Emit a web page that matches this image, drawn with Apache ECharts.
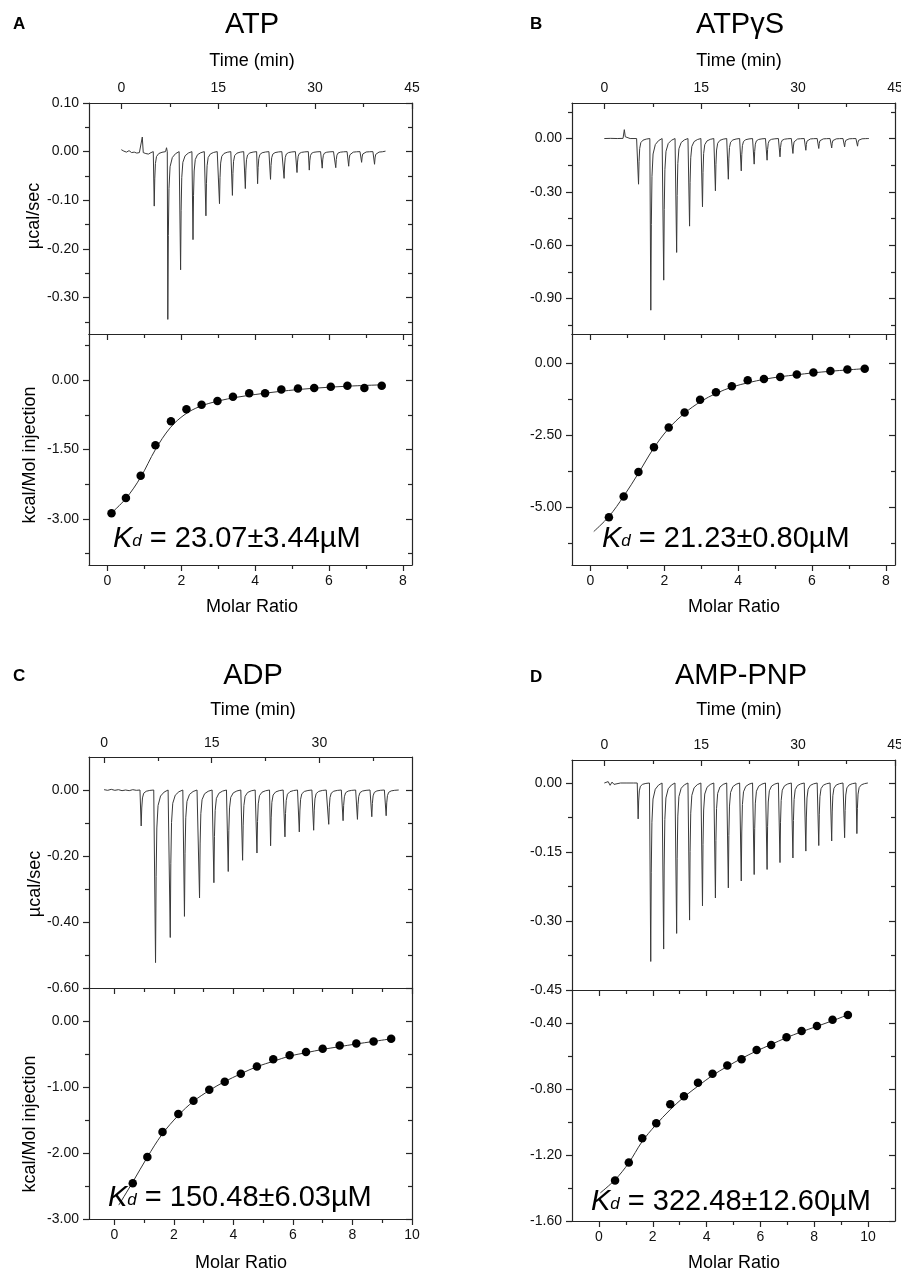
<!DOCTYPE html>
<html>
<head>
<meta charset="utf-8">
<script src="https://cdn.jsdelivr.net/npm/echarts@6/dist/echarts.min.js"></script>
<style>
html,body{margin:0;padding:0;background:#fff;}
#chart{width:901px;height:1273px;}
</style>
</head>
<body>
<div id="chart"></div>
<script>
// ---------------- DATA ----------------
// Panel A : ATP
const injTimeA = [5.1,7.2,9.18,11.1,13.1,15.2,17.2,19.2,21.1,23.1,25.2,27.2,29.1,31.1,33.2,35.2,37.2,39.2];
const injPeakA = [-0.112,-0.345,-0.243,-0.181,-0.132,-0.107,-0.090,-0.076,-0.066,-0.057,-0.055,-0.043,-0.038,-0.034,-0.033,-0.030,-0.022,-0.026];
const baselineA = [[0,0.004],[0.4,0.001],[0.8,-0.001],[1.2,0.002],[1.6,-0.002],[2.0,-0.001],[2.4,-0.003],[2.8,-0.002],[3.1,-0.003],[3.25,0.030],[3.4,-0.002],[3.8,-0.004],[4.2,-0.005],[4.6,-0.002],[4.95,0],[7.0,0.008],[40.9,0.001]];
const molarA = [0.11,0.5,0.9,1.3,1.72,2.14,2.55,2.98,3.4,3.84,4.27,4.71,5.16,5.6,6.05,6.5,6.96,7.43];
const heatA  = [-2.88,-2.55,-2.07,-1.41,-0.89,-0.63,-0.53,-0.45,-0.36,-0.28,-0.28,-0.20,-0.18,-0.17,-0.14,-0.12,-0.17,-0.12];
const fitXA = [0.1,0.5,0.9,1.3,1.7,2.1,2.5,3.0,3.5,4.0,4.7,5.5,6.5,7.43];
const fitYA = [-2.88,-2.56,-2.1,-1.5,-1.03,-0.74,-0.57,-0.45,-0.37,-0.31,-0.24,-0.18,-0.13,-0.1];

// Panel B : ATPγS
const injTimeB = [5.3,7.2,9.2,11.2,13.2,15.2,17.2,19.2,21.2,23.2,25.2,27.2,29.2,31.2,33.2,35.2,37.2,39.2];
const injPeakB = [-0.257,-0.966,-0.797,-0.641,-0.493,-0.384,-0.294,-0.229,-0.182,-0.144,-0.122,-0.103,-0.084,-0.066,-0.056,-0.053,-0.047,-0.043];
const baselineB = [[0,0],[1,0.001],[2,0],[2.9,0.001],[3.1,0.05],[3.25,0.01],[3.5,0.002],[4,0],[5.0,0],[40.8,0]];
const molarB = [0.5,0.9,1.3,1.72,2.12,2.55,2.97,3.4,3.83,4.26,4.7,5.14,5.59,6.04,6.5,6.96,7.43];
const heatB  = [-5.35,-4.63,-3.78,-2.92,-2.24,-1.72,-1.28,-1.02,-0.81,-0.60,-0.56,-0.49,-0.40,-0.33,-0.28,-0.23,-0.20];
const fitXB = [0.09,0.5,0.9,1.3,1.7,2.1,2.55,3.0,3.4,3.85,4.3,4.7,5.14,5.6,6.0,6.5,7.0,7.43];
const fitYB = [-5.84,-5.32,-4.62,-3.82,-2.98,-2.3,-1.74,-1.33,-1.06,-0.83,-0.68,-0.57,-0.48,-0.41,-0.35,-0.29,-0.24,-0.2];

// Panel C : ADP
const injTimeC = [5.17,7.17,9.22,11.2,13.3,15.3,17.3,19.3,21.3,23.2,25.2,27.2,29.2,31.3,33.3,35.3,37.3,39.3];
const injPeakC = [-0.109,-0.523,-0.447,-0.383,-0.327,-0.281,-0.247,-0.213,-0.191,-0.169,-0.142,-0.127,-0.122,-0.104,-0.093,-0.089,-0.081,-0.078];
const baselineC = [[0,0.001],[0.5,-0.001],[1,0.002],[1.5,-0.001],[2,0.001],[2.5,-0.002],[3,0],[3.5,-0.002],[4,0.001],[4.5,-0.001],[5.0,0],[41.1,0]];
const molarC = [0.62,1.11,1.62,2.15,2.66,3.19,3.71,4.25,4.79,5.34,5.89,6.44,7.0,7.57,8.13,8.71,9.3];
const heatC  = [-2.46,-2.06,-1.68,-1.41,-1.21,-1.04,-0.92,-0.80,-0.69,-0.58,-0.52,-0.47,-0.42,-0.37,-0.34,-0.31,-0.27];
const fitXC = [0.15,0.62,1.1,1.6,2.15,2.65,3.2,3.7,4.25,4.8,5.35,5.9,6.45,7.0,7.55,8.1,8.7,9.3];
const fitYC = [-2.79,-2.44,-2.07,-1.72,-1.43,-1.22,-1.05,-0.92,-0.80,-0.69,-0.61,-0.53,-0.48,-0.43,-0.39,-0.35,-0.31,-0.27];

// Panel D : AMP-PNP
const injTimeD = [5.24,7.19,9.19,11.2,13.2,15.2,17.2,19.2,21.2,23.2,25.2,27.2,29.2,31.2,33.2,35.2,37.2,39.1];
const injPeakD = [-0.078,-0.388,-0.361,-0.327,-0.298,-0.267,-0.250,-0.228,-0.213,-0.199,-0.188,-0.173,-0.163,-0.148,-0.136,-0.126,-0.119,-0.110];
const baselineD = [[0,0],[0.3,-0.004],[0.6,0.003],[0.9,-0.005],[1.2,0.002],[1.5,-0.003],[1.8,0.001],[2.5,0],[3.5,0],[4.5,0],[5.1,0],[40.8,0]];
const molarD = [0.6,1.11,1.61,2.13,2.65,3.16,3.68,4.22,4.77,5.3,5.86,6.4,6.97,7.53,8.1,8.68,9.25];
const heatD  = [-1.354,-1.246,-1.099,-1.008,-0.893,-0.844,-0.762,-0.707,-0.657,-0.620,-0.564,-0.533,-0.487,-0.448,-0.418,-0.380,-0.352];
const fitXD = [0.05,0.6,1.1,1.6,2.1,2.65,3.15,3.7,4.2,4.75,5.3,5.85,6.4,6.95,7.5,8.1,8.7,9.25];
const fitYD = [-1.43,-1.35,-1.25,-1.12,-1.02,-0.925,-0.85,-0.78,-0.72,-0.665,-0.615,-0.57,-0.53,-0.49,-0.455,-0.42,-0.385,-0.35];

// Injection peak shape: [minutes after peak, fraction of peak]
const peakShape = [[-0.08,0],[0,1],[0.08,0.5],[0.18,0.22],[0.35,0.09],[0.7,0.035],[1.2,0.012],[1.75,0]];

// Tick labels
const timeTicksABD = [0,15,30,45];
const timeTicksC = [0,15,30];
const timeMinor = [7.5,22.5,37.5];
const yTopA = [0.10,0.00,-0.10,-0.20,-0.30];
const yTopAminor = [0.05,-0.05,-0.15,-0.25,-0.35];
const yBotA = [0.00,-1.50,-3.00];
const yBotAminor = [0.75,-0.75,-2.25,-3.75];
const yTopB = [0.00,-0.30,-0.60,-0.90];
const yTopBminor = [0.15,-0.15,-0.45,-0.75,-1.05];
const yBotB = [0.00,-2.50,-5.00];
const yBotBminor = [-1.25,-3.75,-6.25];
const yTopC = [0.00,-0.20,-0.40,-0.60];
const yTopCminor = [-0.10,-0.30,-0.50];
const yBotC = [0.00,-1.00,-2.00,-3.00];
const yBotCminor = [-0.50,-1.50,-2.50];
const yTopD = [0.00,-0.15,-0.30,-0.45];
const yTopDminor = [-0.075,-0.225,-0.375];
const yBotD = [-0.40,-0.80,-1.20,-1.60];
const yBotDminor = [-0.60,-1.00,-1.40];
const molarTicksAB = [0,2,4,6,8];
const molarMinorAB = [1,3,5,7];
const molarTicksCD = [0,2,4,6,8,10];
const molarMinorCD = [1,3,5,7,9];

// ---------------- BUILD ----------------
const FONT = '"Liberation Sans", Arial, Helvetica, sans-serif';
const AX = '#262626';
const grids = [], xAxes = [], yAxes = [], series = [];

const fmt2 = v => (Math.abs(v) < 1e-9 ? 0 : v).toFixed(2);
const fmtInt = v => String(Math.round(v));

function addAxis(list, g, pos, min, max, majors, minors, labels, inside, margin, fmt) {
  const idx = list.length;
  const major = {
    type: 'value', gridIndex: g, position: pos, min: min, max: max,
    splitLine: {show: false},
    axisLine: {show: true, onZero: false, lineStyle: {color: AX, width: 1.2}},
    axisTick: majors.length ? {show: true, inside: inside, length: 6, customValues: majors, lineStyle: {color: AX, width: 1.2}} : {show: false},
    axisLabel: labels ? {show: true, customValues: labels, formatter: fmt, margin: margin, fontSize: 14, color: '#111', fontFamily: FONT} : {show: false}
  };
  list.push(major);
  if (minors && minors.length) {
    list.push({
      type: 'value', gridIndex: g, position: pos, min: min, max: max,
      splitLine: {show: false},
      axisLine: {show: false, onZero: false},
      axisTick: {show: true, inside: inside, length: 4, customValues: minors, lineStyle: {color: AX, width: 1.2}},
      axisLabel: {show: false}
    });
  }
  return idx;
}

function buildTrace(times, peaks, base) {
  const pts = base.map(p => [p[0], p[1]]);
  times.forEach((t, i) => {
    peakShape.forEach(s => pts.push([t + s[0], peaks[i] * s[1]]));
  });
  pts.sort((a, b) => a[0] - b[0]);
  return pts;
}

function zip(xs, ys) { return xs.map((x, i) => [x, ys[i]]); }

const panels = [
  {left: 89, w: 323, tTop: 103, tH: 231, bTop: 334, bH: 231,
   tMin: -5, tMax: 45, tLab: timeTicksABD, tMarg: 8,
   yT: [-0.375, 0.10], yTmaj: yTopA, yTmin: yTopAminor,
   yB: [-4, 1], yBmaj: yBotA, yBmin: yBotAminor,
   xB: [-0.5, 8.25], xBmaj: molarTicksAB, xBmin: molarMinorAB,
   inj: injTimeA, pk: injPeakA, base: baselineA, mx: molarA, hy: heatA, fx: fitXA, fy: fitYA},
  {left: 572, w: 323, tTop: 103, tH: 231, bTop: 334, bH: 231,
   tMin: -5, tMax: 45, tLab: timeTicksABD, tMarg: 8,
   yT: [-1.1, 0.2], yTmaj: yTopB, yTmin: yTopBminor,
   yB: [-7, 1], yBmaj: yBotB, yBmin: yBotBminor,
   xB: [-0.5, 8.25], xBmaj: molarTicksAB, xBmin: molarMinorAB,
   inj: injTimeB, pk: injPeakB, base: baselineB, mx: molarB, hy: heatB, fx: fitXB, fy: fitYB},
  {left: 89, w: 323, tTop: 757, tH: 231, bTop: 988, bH: 231,
   tMin: -2.1, tMax: 42.9, tLab: timeTicksC, tMarg: 7,
   yT: [-0.6, 0.1], yTmaj: yTopC, yTmin: yTopCminor,
   yB: [-3, 0.5], yBmaj: yBotC, yBmin: yBotCminor,
   xB: [-0.85, 10], xBmaj: molarTicksCD, xBmin: molarMinorCD,
   inj: injTimeC, pk: injPeakC, base: baselineC, mx: molarC, hy: heatC, fx: fitXC, fy: fitYC},
  {left: 572, w: 323, tTop: 760, tH: 230, bTop: 990, bH: 231,
   tMin: -5, tMax: 45, tLab: timeTicksABD, tMarg: 8,
   yT: [-0.45, 0.05], yTmaj: yTopD, yTmin: yTopDminor,
   yB: [-1.6, -0.2], yBmaj: yBotD, yBmin: yBotDminor,
   xB: [-1, 11], xBmaj: molarTicksCD, xBmin: molarMinorCD,
   inj: injTimeD, pk: injPeakD, base: baselineD, mx: molarD, hy: heatD, fx: fitXD, fy: fitYD}
];

panels.forEach(p => {
  const gT = grids.length;
  grids.push({left: p.left, top: p.tTop, width: p.w, height: p.tH, containLabel: false, outerBoundsMode: 'none'});
  const gB = grids.length;
  grids.push({left: p.left, top: p.bTop, width: p.w, height: p.bH, containLabel: false, outerBoundsMode: 'none'});

  // top (thermogram)
  const xT = addAxis(xAxes, gT, 'top', p.tMin, p.tMax, p.tLab, timeMinor, p.tLab, true, p.tMarg, fmtInt);
  addAxis(xAxes, gT, 'bottom', p.tMin, p.tMax, [], [], null, true, 0, null);
  const yT = addAxis(yAxes, gT, 'left', p.yT[0], p.yT[1], p.yTmaj, p.yTmin, p.yTmaj, false, 10, fmt2);
  addAxis(yAxes, gT, 'right', p.yT[0], p.yT[1], p.yTmaj, p.yTmin, null, true, 0, null);

  // bottom (isotherm)
  const xB = addAxis(xAxes, gB, 'bottom', p.xB[0], p.xB[1], p.xBmaj, p.xBmin, p.xBmaj, false, 9, fmtInt);
  addAxis(xAxes, gB, 'top', p.xB[0], p.xB[1], p.xBmaj, p.xBmin, null, true, 0, null);
  const yB = addAxis(yAxes, gB, 'left', p.yB[0], p.yB[1], p.yBmaj, p.yBmin, p.yBmaj, false, 10, fmt2);
  addAxis(yAxes, gB, 'right', p.yB[0], p.yB[1], p.yBmaj, p.yBmin, null, true, 0, null);

  series.push({
    type: 'line', xAxisIndex: xT, yAxisIndex: yT, data: buildTrace(p.inj, p.pk, p.base),
    symbol: 'none', showSymbol: false, lineStyle: {color: '#3a3a3a', width: 1}, silent: true, clip: true
  });
  series.push({
    type: 'line', xAxisIndex: xB, yAxisIndex: yB, data: zip(p.fx, p.fy), smooth: 0.35,
    symbol: 'none', showSymbol: false, lineStyle: {color: '#333', width: 1}, silent: true, clip: true
  });
  series.push({
    type: 'scatter', xAxisIndex: xB, yAxisIndex: yB, data: zip(p.mx, p.hy),
    symbol: 'circle', symbolSize: 8.5, itemStyle: {color: '#000', opacity: 1}, silent: true, z: 5
  });
});

function txt(x, y, text, size, opts) {
  opts = opts || {};
  return {
    type: 'text', x: x, y: y, rotation: opts.rot || 0, silent: true, z: 100,
    style: {
      text: text, fill: '#000',
      font: (opts.bold ? 'bold ' : '') + size + 'px ' + FONT,
      fontSize: size, fontWeight: opts.bold ? 'bold' : 'normal', fontFamily: FONT,
      textAlign: opts.align || 'center', align: opts.align || 'center',
      textVerticalAlign: 'middle', verticalAlign: 'middle'
    }
  };
}
function kd(x, y, value) {
  return {
    type: 'text', x: x, y: y, silent: true, z: 100,
    style: {
      text: '{k|K}{s|d}{n| = ' + value + '}',
      fill: '#000', textAlign: 'left', align: 'left', textVerticalAlign: 'middle', verticalAlign: 'middle',
      rich: {
        k: {fontStyle: 'italic', fontSize: 29, fontFamily: FONT, lineHeight: 34, verticalAlign: 'bottom', fill: '#000'},
        s: {fontStyle: 'italic', fontSize: 17, fontFamily: FONT, lineHeight: 20, verticalAlign: 'bottom', padding: [0, 0, 3, 0], fill: '#000'},
        n: {fontSize: 29, fontFamily: FONT, lineHeight: 34, verticalAlign: 'bottom', fill: '#000'}
      }
    }
  };
}

const graphics = [
  txt(13, 24, 'A', 17, {bold: true, align: 'left'}),
  txt(530, 24, 'B', 17, {bold: true, align: 'left'}),
  txt(13, 676, 'C', 17, {bold: true, align: 'left'}),
  txt(530, 677, 'D', 17, {bold: true, align: 'left'}),
  txt(252, 25, 'ATP', 29),
  txt(740, 25, 'ATPγS', 29),
  txt(253, 676, 'ADP', 29),
  txt(741, 676, 'AMP-PNP', 29),
  txt(252, 61, 'Time (min)', 18),
  txt(739, 61, 'Time (min)', 18),
  txt(253, 710, 'Time (min)', 18),
  txt(739, 710, 'Time (min)', 18),
  txt(252, 607, 'Molar Ratio', 18),
  txt(734, 607, 'Molar Ratio', 18),
  txt(241, 1263, 'Molar Ratio', 18),
  txt(734, 1263, 'Molar Ratio', 18),
  txt(34, 216, 'µcal/sec', 18, {rot: Math.PI / 2}),
  txt(30, 455, 'kcal/Mol injection', 18, {rot: Math.PI / 2}),
  txt(35, 884, 'µcal/sec', 18, {rot: Math.PI / 2}),
  txt(30, 1124, 'kcal/Mol injection', 18, {rot: Math.PI / 2}),
  kd(113, 536, '23.07±3.44µM'),
  kd(602, 536, '21.23±0.80µM'),
  kd(108, 1195, '150.48±6.03µM'),
  kd(591, 1199, '322.48±12.60µM')
];

const chart = echarts.init(document.getElementById('chart'), null, {renderer: 'canvas'});
chart.setOption({
  backgroundColor: '#fff',
  animation: false,
  textStyle: {fontFamily: FONT},
  grid: grids,
  xAxis: xAxes,
  yAxis: yAxes,
  series: series,
  graphic: {elements: graphics}
});
</script>
</body>
</html>
